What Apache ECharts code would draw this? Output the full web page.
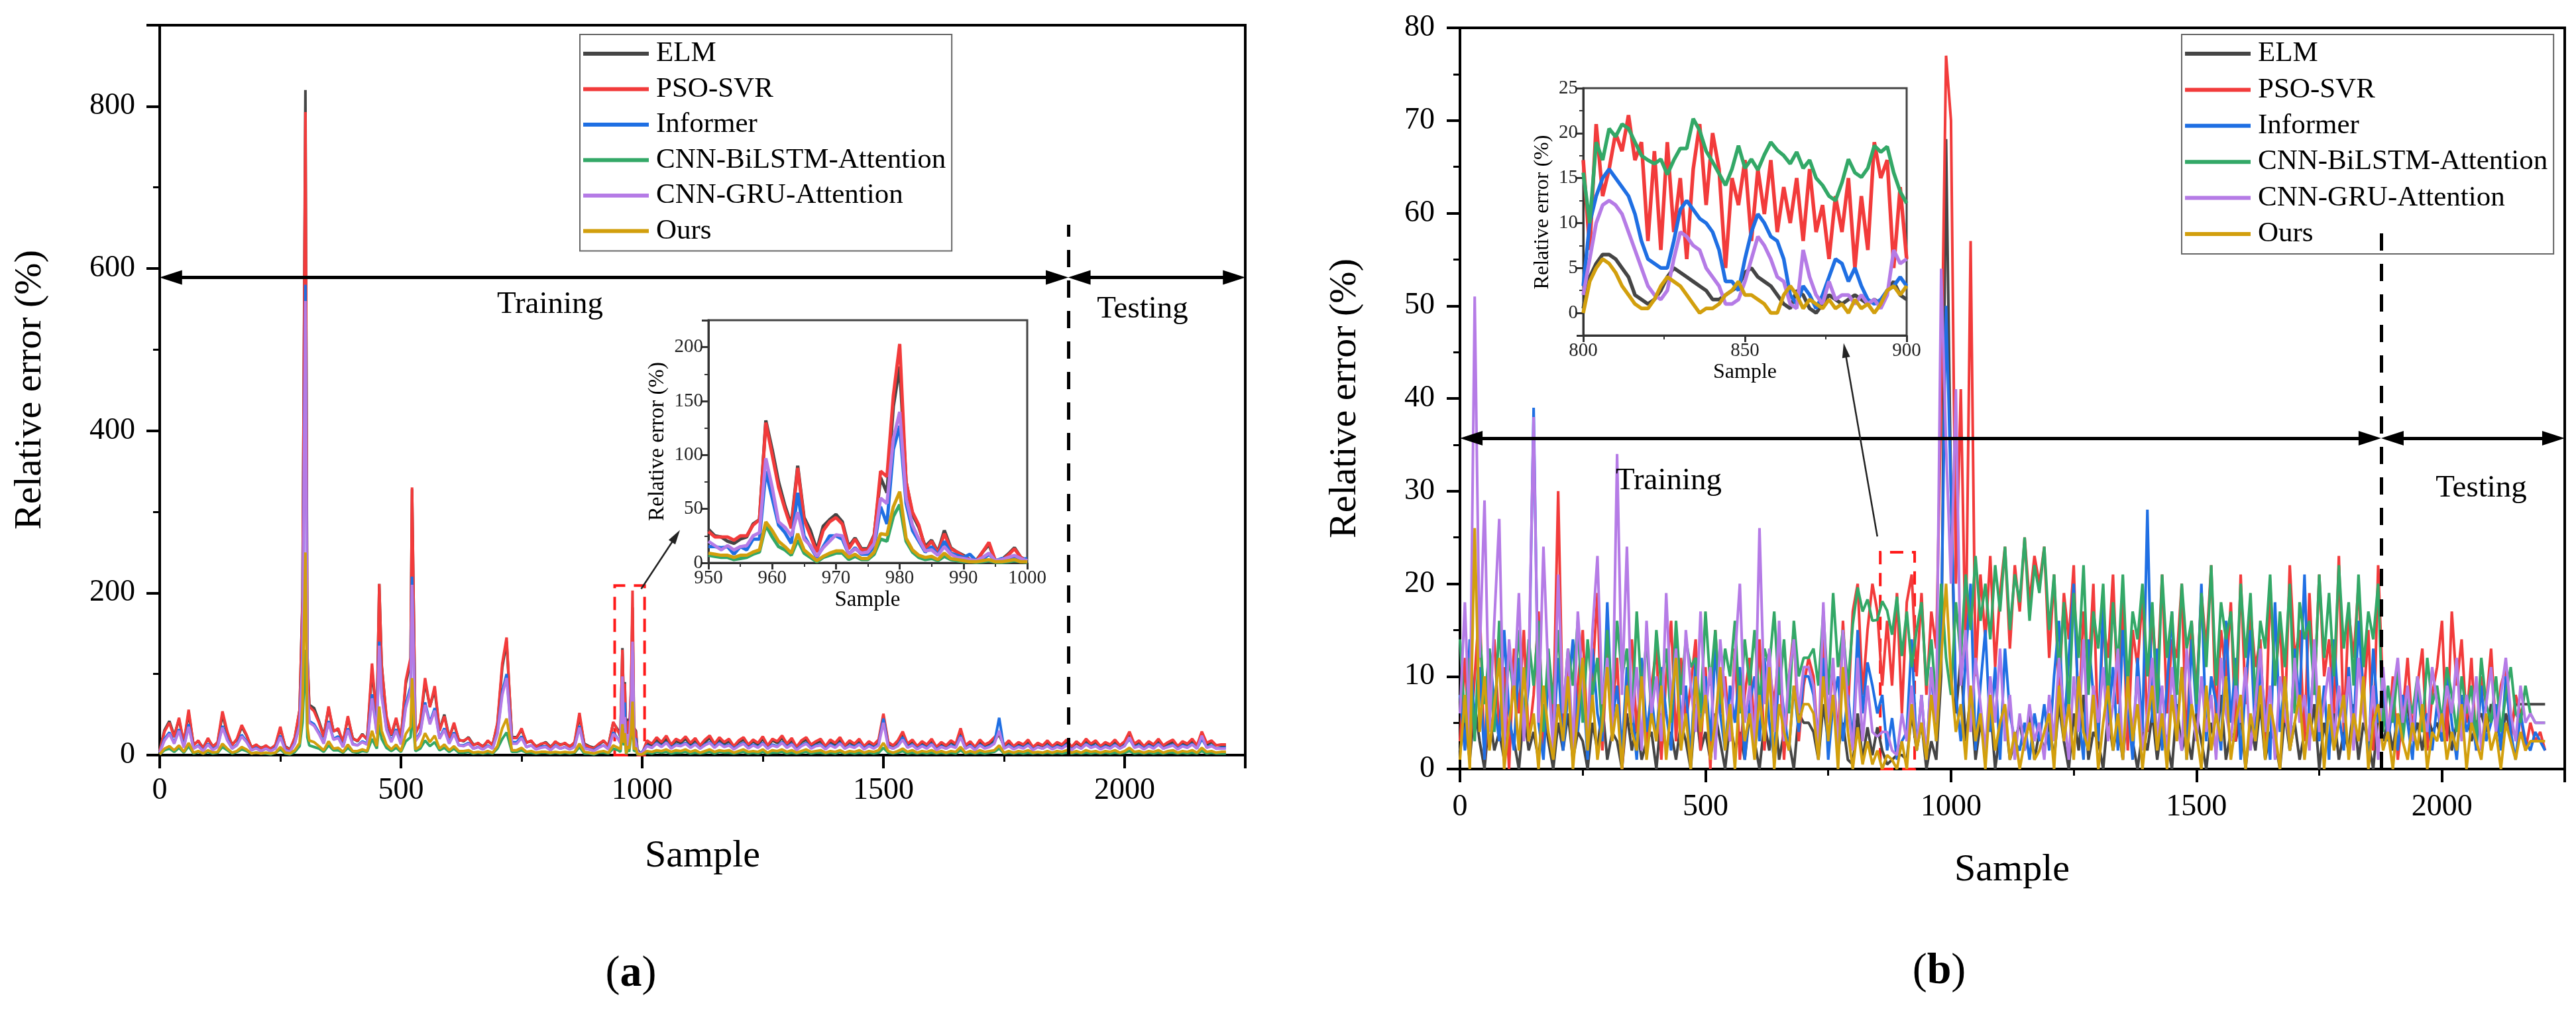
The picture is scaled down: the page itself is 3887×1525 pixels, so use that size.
<!DOCTYPE html>
<html><head><meta charset="utf-8">
<script src="https://cdn.jsdelivr.net/npm/echarts@6/dist/echarts.min.js"></script>
<style>html,body{margin:0;padding:0;background:#fff}#c{width:3887px;height:1525px}</style>
</head><body><div id="c"></div>
<script>
const FONT = '"Liberation Serif","Times New Roman",serif';
const seriesNames = ['ELM','PSO-SVR','Informer','CNN-BiLSTM-Attention','CNN-GRU-Attention','Ours'];
const seriesColors = ['#454545','#f23b3b','#1f6fe3','#33a867','#b57be6','#d29f0d'];

// ---------- Panel (a): sample indices ----------
const xA = [0,10,20,30,40,50,60,70,80,90,100,110,120,130,140,150,160,170,180,190,200,210,220,230,240,250,260,270,280,290,
296,302,306,
310,320,330,340,350,360,370,380,390,400,410,420,430,440,450,
455,
460,470,480,490,500,510,520,
523,
530,540,550,560,570,580,590,600,610,620,630,640,650,660,670,680,690,700,710,
719,
730,740,750,760,770,780,790,800,810,820,830,840,850,860,870,880,890,900,910,920,930,940,950,
955,959,962,964,967,970,973,977,980,983,987,990,995,
1000,1010,1020,1030,1040,1050,1060,1070,1080,1090,
1100,1110,1120,1130,1140,1150,1160,1170,1180,1190,
1200,1210,1220,1230,1240,1250,1260,1270,1280,1290,
1300,1310,1320,1330,1340,1350,1360,1370,1380,1390,
1400,1410,1420,1430,1440,1450,1460,1470,1480,1490,
1500,1510,1520,1530,1540,1550,1560,1570,1580,1590,
1600,1610,1620,1630,1640,1650,1660,1670,1680,1690,
1700,1710,1720,1730,1740,1750,1760,1770,1780,1790,
1800,1810,1820,1830,1840,1850,1860,1870,1880,1890,
1900,1910,1920,1930,1940,1950,1960,1970,1980,1990,
2000,2010,2020,2030,2040,2050,2060,2070,2080,2090,
2100,2110,2120,2130,2140,2150,2160,2170,2180,2190,
2200,2210];

const aELM = [6,31,42,24,44,14,52,13,17,9,20,11,15,50,27,13,19,35,24,10,12,9,11,8,12,33,11,7,21,55,
195,820,125,
62,58,42,24,58,30,31,16,46,21,17,26,19,105,42,
211,
112,45,24,44,21,88,115,
328,
28,38,90,60,80,31,50,22,38,19,17,22,13,14,11,17,13,38,108,
140,
22,22,31,16,17,11,13,16,10,16,13,14,11,15,48,14,11,9,13,17,12,40,31,
22,132,58,90,12,45,23,79,182,33,30,7,3,
2,15,12,19,14,20,11,17,15,20,
13,18,11,16,21,12,19,14,17,10,
16,19,12,17,13,20,11,18,15,21,
12,18,9,16,19,12,15,17,10,16,
13,19,11,16,12,17,10,15,12,16,
48,14,11,16,26,12,17,10,15,12,
17,9,14,11,16,12,30,11,15,9,
16,12,14,19,25,11,16,10,14,12,
16,9,13,11,16,10,14,12,16,9,
15,11,17,12,16,10,14,12,16,11,
15,26,12,16,10,15,12,17,11,14,
16,10,15,12,17,11,26,13,16,12,
12,12];

const aPSO = [5,29,40,22,46,15,56,12,18,8,21,10,16,54,29,12,20,37,25,9,13,8,12,7,13,35,10,6,22,56,
190,793,120,
60,54,40,22,60,29,33,15,48,20,18,25,20,113,40,
211,
110,48,25,46,20,92,120,
330,
26,40,95,59,85,30,48,21,40,18,18,21,12,15,10,18,12,40,113,
145,
21,21,33,15,18,10,14,15,9,17,12,15,10,16,52,13,10,8,14,18,11,41,29,
25,130,55,88,10,42,22,85,203,35,27,6,2,
2,18,14,22,16,24,13,20,17,23,
15,21,12,19,24,14,22,16,20,11,
18,22,13,19,15,23,12,20,17,24,
14,21,10,18,22,13,17,20,11,19,
15,22,12,18,14,20,11,17,13,19,
51,16,12,18,29,14,19,11,17,13,
20,10,16,12,18,14,33,12,17,10,
19,13,16,22,28,12,18,11,16,13,
19,10,15,12,18,11,16,13,19,10,
17,12,20,14,18,11,16,13,19,12,
17,29,14,18,11,17,13,20,12,16,
19,11,17,14,20,12,29,15,18,12,
13,13];

const aInf = [3,20,28,15,32,10,38,8,12,5,14,7,11,36,20,8,13,25,17,6,9,5,8,5,9,24,7,4,15,38,
130,580,85,
42,38,28,15,42,20,23,10,33,14,12,17,14,75,28,
140,
75,33,17,32,14,62,85,
220,
18,28,65,40,58,21,33,15,28,12,12,15,8,10,7,12,8,28,78,
100,
16,16,23,10,12,7,10,11,6,12,8,10,7,11,36,9,7,6,10,12,8,28,20,
15,85,28,65,5,25,14,52,127,20,20,5,2,
4,12,9,15,11,16,9,13,12,15,
10,14,8,13,16,10,15,11,13,8,
12,15,9,13,10,15,8,13,11,16,
10,14,7,12,15,9,12,13,8,13,
10,15,8,12,10,14,8,12,9,13,
45,11,8,12,22,10,13,8,12,9,
14,7,11,8,12,10,24,8,12,7,
13,9,11,15,46,8,12,8,11,9,
13,7,10,8,12,8,11,9,13,7,
11,8,14,10,12,8,11,9,13,8,
12,20,10,12,8,12,9,14,8,11,
13,8,12,10,14,8,20,10,12,8,
9,9];

const aBiL = [1,6,8,4,9,3,11,2,4,2,4,2,3,10,6,2,4,7,5,2,3,2,2,1,3,7,2,1,4,11,
40,130,22,
12,10,8,4,12,6,6,3,9,4,3,5,4,20,8,
38,
20,9,5,9,4,17,22,
55,
5,8,18,11,16,6,9,4,8,3,3,4,2,3,2,3,2,8,20,
28,
4,4,6,3,3,2,3,3,2,3,2,3,2,3,10,2,2,1,3,3,2,8,6,
4,35,12,21,1,9,4,22,54,5,6,1,1,
1,3,2,4,3,4,2,3,3,4,
2,3,2,3,4,2,4,3,3,2,
3,4,2,3,2,4,2,3,3,4,
2,3,2,3,4,2,3,3,2,3,
2,4,2,3,2,3,2,3,2,3,
9,3,2,3,5,2,3,2,3,2,
3,2,3,2,3,2,6,2,3,2,
3,2,3,4,8,2,3,2,3,2,
3,2,3,2,3,2,3,2,3,2,
3,2,3,2,3,2,3,2,3,2,
3,5,2,3,2,3,2,3,2,3,
3,2,3,2,3,2,5,2,3,2,
2,2];

const aGRU = [3,18,26,14,30,9,35,8,11,5,13,6,10,34,18,8,12,23,16,6,8,5,8,5,8,22,6,4,14,36,
120,560,80,
40,36,26,14,40,19,21,10,31,13,12,16,13,70,26,
135,
72,31,16,30,13,58,80,
210,
17,26,62,38,55,20,31,14,26,12,11,14,8,10,7,11,8,26,74,
95,
14,14,21,10,12,7,9,10,6,11,8,10,7,10,34,8,7,5,9,12,7,26,20,
15,97,33,47,6,26,13,60,140,22,15,4,2,
3,11,9,14,10,15,8,12,11,14,
9,13,8,12,15,9,14,10,12,7,
11,14,8,12,9,14,8,12,10,15,
9,13,6,11,14,8,11,12,7,12,
9,14,8,11,9,13,7,11,8,12,
40,10,8,11,19,9,12,7,11,8,
13,6,10,8,11,9,22,8,11,6,
12,8,10,14,30,8,11,7,10,8,
12,6,10,8,11,7,10,8,12,6,
11,8,13,9,11,7,10,8,12,8,
11,22,9,11,7,11,8,13,8,10,
12,7,11,9,13,8,24,9,11,8,
8,8];

const aOurs = [1,8,11,6,12,4,15,3,5,2,6,3,4,14,8,3,5,10,7,2,3,2,3,2,3,10,3,2,6,15,
60,250,35,
18,16,11,6,17,8,9,4,13,5,5,7,5,30,11,
60,
30,13,7,13,5,26,35,
95,
7,11,27,16,24,8,13,6,11,5,5,6,3,4,3,5,3,11,33,
45,
6,6,9,4,5,3,4,4,3,4,3,4,3,4,14,4,3,2,4,5,3,12,9,
7,38,15,27,2,11,8,27,66,7,9,2,1,
1,5,4,6,5,7,4,6,5,7,
4,6,3,5,7,4,6,5,6,3,
5,7,4,5,4,7,3,6,5,7,
4,6,3,5,7,4,5,6,3,5,
4,6,3,5,4,6,3,5,4,6,
15,5,3,5,8,4,6,3,5,4,
6,3,5,3,5,4,10,3,5,3,
6,4,5,6,12,3,5,3,5,4,
6,3,4,3,5,3,5,4,6,3,
5,3,6,4,5,3,5,4,6,3,
5,9,4,5,3,5,4,6,3,5,
6,3,5,4,6,3,9,4,5,3,
4,4];

// ---------- Panel (b): sample indices ----------
const xB = [0,10,20,30,40,50,60,70,80,90,100,110,120,130,140,150,160,170,180,190,
200,210,220,230,240,250,260,270,280,290,300,310,320,330,340,350,360,370,380,390,
400,410,420,430,440,450,460,470,480,490,500,510,520,530,540,550,560,570,580,590,
600,610,620,630,640,650,660,670,680,690,700,710,720,730,740,750,760,770,780,790,
800,810,820,830,840,850,860,870,880,890,900,910,920,930,940,950,960,970,980,990,
1000,1010,1020,1030,1040,1050,1060,1070,1080,1090,1100,1110,1120,1130,1140,1150,1160,1170,1180,1190,
1200,1210,1220,1230,1240,1250,1260,1270,1280,1290,1300,1310,1320,1330,1340,1350,1360,1370,1380,1390,
1400,1410,1420,1430,1440,1450,1460,1470,1480,1490,1500,1510,1520,1530,1540,1550,1560,1570,1580,1590,
1600,1610,1620,1630,1640,1650,1660,1670,1680,1690,1700,1710,1720,1730,1740,1750,1760,1770,1780,1790,
1800,1810,1820,1830,1840,1850,1860,1870,1880,1890,1900,1910,1920,1930,1940,1950,1960,1970,1980,1990,
2000,2010,2020,2030,2040,2050,2060,2070,2080,2090,2100,2110,2120,2130,2140,2150,2160,2170,2180,2190,
2200,2210];

const bELM = [2,5,1,7,3,0,6,2,4,1,5,3,0,6,2,4,1,7,3,0,
5,2,6,1,4,3,0,5,2,7,1,4,3,0,6,2,5,1,3,4,
0,6,2,4,1,5,3,0,7,2,4,1,6,3,0,5,2,4,1,6,
3,0,5,2,7,1,4,3,0,6,5,5,4,1,7,3,8,2,5,1,
0.5,6,1,4.5,1.5,4.5,2,0.5,1,1.5,1.5,1,6,2,5,0,3,1,10,68,
30,6,12,3,8,1,5,2,7,0,4,6,1,3,5,2,6,1,4,2,
5,1,7,3,0,6,2,8,1,4,3,0,6,2,5,1,7,3,0,4,
2,6,1,5,3,0,7,2,4,1,6,3,0,5,2,8,1,4,3,6,
0,5,2,7,1,4,3,0,6,2,5,1,4,3,7,0,5,2,6,1,
4,2,7,1,5,3,0,6,3,5,2,6,4,7,3,5,2,6,4,5,
3,6,2,5,4,7,3,5,6,4,7,5,3,6,4,7,7,7,7,7,
7,7];

const bPSO = [3,12,2,10,18,1,9,14,4,11,0,13,6,15,3,8,17,2,12,5,
30,4,11,1,9,15,3,10,19,2,13,6,12,0,8,14,4,11,2,9,
13,1,10,16,3,12,5,9,14,2,11,0,15,6,10,3,13,1,8,12,
4,14,2,11,7,13,1,10,15,3,9,12,10,2,14,5,11,3,16,6,
17,20,8,15,20,17,9,16,9,19,6,18,21,10,19,8,17,13,40,77,
70,20,41,12,57,10,21,14,23,11,19,24,13,22,17,25,18,23,20,24,
12,21,8,19,14,22,5,17,10,20,3,16,12,21,7,18,2,15,11,19,
4,17,9,21,6,14,12,20,2,16,8,19,13,22,5,15,10,18,3,21,
7,17,11,14,2,20,9,16,5,22,12,15,3,19,8,21,10,14,6,23,
4,17,12,20,7,15,2,22,8,3,10,1,6,12,4,9,13,2,8,11,
16,3,17,9,14,5,12,2,10,7,13,4,9,11,3,8,6,2,5,3,
4,2];

const bInf = [8,2,14,5,11,1,13,7,3,15,6,2,12,4,9,39,5,1,10,3,
12,2,8,14,4,10,1,13,6,3,18,5,9,2,11,7,1,12,4,8,
3,11,6,2,14,5,9,1,12,4,10,3,13,6,2,9,5,11,1,7,
10,3,12,5,1,11,6,2,9,4,10,10,8,3,12,1,7,10,3,8,
3,15,6,11.5,9,6,8,2,5.5,1,3,4,14,2,8,1,11,3,15,50,
30,8,3,12,20,2,9,15,4,11,1,13,6,3,2,5,1,6,3,7,
2,10,16,4,12,20,6,1,14,8,3,18,5,11,2,15,7,1,12,4,
28,5,13,2,9,17,4,11,1,14,6,20,3,10,7,2,16,5,12,1,
9,15,3,11,6,1,18,4,10,2,13,7,21,5,12,3,9,1,14,6,
2,11,4,16,8,1,13,5,9,3,7,2,8,5,1,9,4,6,2,7,
3,10,5,1,8,4,6,2,9,3,5,7,2,10,4,1,6,3,2,4,
3,2];

const bBiL = [14,5,12,3,15,7,13,4,16,6,12,8,15,5,14,9,16,4,13,7,
15,6,13,9,16,5,14,8,12,4,15,7,16,10,13,5,17,8,14,6,
15,9,13,5,16,8,14,11,12,6,17,9,15,7,13,10,16,6,14,9,
15,7,13,11,17,8,14,6,16,10,12,12,13,9,17,8,19,11,15,9,
15.6,19.6,17,18.3,16,16.1,18.1,17.1,14.5,18.6,12.2,17,11,15,18,9,14,7,20,12,
8,18,12,21,15,23,16,20,14,22,17,24,15,21,18,25,16,22,19,24,
15,21,10,18,6,19,12,22,8,17,13,20,7,18,11,21,9,17,14,20,
10,18,6,21,12,17,8,20,13,16,7,19,11,22,9,18,14,17,8,20,
12,19,7,16,13,21,9,17,11,20,6,18,14,16,8,21,12,19,10,22,
13,18,9,21,11,17,14,20,4,9,5,11,3,8,6,10,4,12,7,9,
5,11,8,4,10,6,9,3,12,7,5,10,4,8,11,6,5,9,6,5,
5,5];

const bGRU = [6,18,3,51,12,29,4,16,27,2,14,8,19,3,11,38,5,24,10,2,
21,6,13,2,17,9,4,15,23,7,12,3,34,8,24,5,11,2,16,6,
10,3,19,7,13,2,15,9,4,17,6,11,1,14,8,3,12,20,5,9,
2,26,7,13,4,16,3,10,14,6,11,11,9,2,18,5,12,1,15,7,
2,12,3,9,4,3.5,4,4,2,1.5,6,3,9,2,8,1,11,5,54,35,
20,41,9,15,4,12,7,2,10,5,13,3,8,1,6,2,7,3,5,1,
8,3,12,6,1,10,4,14,2,9,5,11,3,7,13,1,8,4,10,2,
6,12,3,9,1,11,5,2,13,7,3,10,4,8,1,12,6,3,9,5,
11,2,7,13,4,9,1,10,6,3,12,5,8,2,14,4,7,11,3,9,
5,10,2,12,6,3,9,1,11,4,8,12,5,9,3,10,6,4,11,7,
4,9,6,12,3,8,5,10,2,7,11,4,8,12,6,3,9,5,6,5,
5,5];

const bOurs = [1,8,0,26,4,10,2,7,12,0,5,9,2,11,3,6,0,9,4,1,
7,3,10,0,6,12,2,8,1,5,11,3,7,0,9,4,2,10,1,6,
3,9,1,7,12,2,6,0,10,4,8,1,5,11,2,7,0,9,3,6,
1,8,3,11,0,7,4,2,9,5,7,7,6,1,10,3,8,0,11,4,
0,4.5,0.5,3,0.5,2,0,1.5,1,0,3,0,7,2,5,1,8,3,12,20,
10,4,7,1,9,3,6,0,8,2,5,7,1,4,0,3,5,1,2,4,
6,0,9,3,7,1,10,4,2,8,0,5,9,2,6,1,10,3,7,0,
5,9,2,6,0,8,3,11,1,7,4,0,9,2,6,3,10,1,5,8,
0,6,3,9,1,7,4,0,10,2,5,8,1,6,3,9,0,7,2,5,
8,1,6,3,10,0,5,7,2,4,0,6,3,1,5,2,7,0,4,3,
6,1,4,2,7,0,5,3,1,6,2,4,0,5,3,1,4,2,3,3,
3,3];

// ---------- Inset (a): samples 950-1000 ----------
const xIA = [950,951,952,953,954,955,956,957,958,959,960,961,962,963,964,965,966,967,968,969,
970,971,972,973,974,975,976,977,978,979,980,981,982,983,984,985,986,987,988,989,
990,991,992,993,994,995,996,997,998,999,1000];
const iaELM = [31,25,24,20,18,22,24,36,40,132, 105,75,53,35,90,42,30,12,34,40,
45,38,15,23,13,13,26,79,65,145, 182,75,45,33,15,21,10,30,14,10, 7,3,2,10,17,2,3,8,14,5, 2];
const iaPSO = [29,24,24,24,21,25,25,35,40,130, 100,70,50,32,88,40,25,10,30,38,
42,36,13,22,12,12,25,85,80,155, 203,75,47,35,13,20,9,27,13,10, 6,3,1,10,19,2,2,7,13,5, 2];
const iaInf = [15,15,14,15,8,15,12,22,22,85, 60,35,28,18,65,25,15,5,15,25,
25,22,8,14,8,8,15,52,36,105, 127,55,30,20,10,15,7,20,9,7, 5,8,2,3,8,2,4,4,6,3, 4];
const iaBiL = [7,6,5,5,3,4,5,8,10,35, 24,15,12,7,21,9,5,1,5,7,
9,9,3,6,3,3,8,22,20,43, 54,20,10,5,3,4,2,6,3,2, 1,1,0.5,1,2,0.5,0.5,1,2,1, 0.5];
const iaGRU = [20,16,12,16,12,15,16,25,28,97, 70,38,33,25,47,22,16,6,14,20,
26,25,8,13,9,10,18,60,55,115, 140,60,35,22,11,12,7,15,8,5, 4,3,2,5,9,2,3,5,7,4, 2];
const iaOurs = [9,8,7,7,5,7,7,10,12,38, 30,20,15,9,27,12,7,2,6,9,
11,11,5,8,4,4,10,27,26,52, 66,23,12,7,5,6,3,9,4,3, 2,1,1,2,3,1,1,2,3,1, 1];

// ---------- Inset (b): samples 800-900 ----------
const xIB = [800,802,804,806,808,810,812,814,816,818,820,822,824,826,828,830,832,834,836,838,
840,842,844,846,848,850,852,854,856,858,860,862,864,866,868,870,872,874,876,878,
880,882,884,886,888,890,892,894,896,898,900];
const ibELM = [0.5,4,5.5,6.5,6.5,6,5,4,2,1.5,1,1.5,2.5,4,5,4.5,4,3.5,3,2.5,
1.5,1.5,2,2.5,3,4.5,5,4,3.5,3,2,1,0.5,2.5,2,0.5,0,1,2,1.5,
1,1.5,2,1.5,1,1.5,1,2.5,3.5,2,1.5];
const ibPSO = [17,7,21,13,16,20,18,22,17,19,8,18,7,19,9,15,6,16,21,12,
20,16,5,15,12,17,8,16,11,17,9,14,10,15,8,16,9,12,6,13,
9,15,5,13,7,19,15,17,5,14,6];
const ibInf = [3,10,13,15,16,15,14,13,11,8,6,5.5,5,5,8,11.5,12.5,11.5,10.5,10,
9,7,3.5,3.5,2.5,6,9,11,10,8.5,8,6,2,1,3,2,0.5,2,4,6,
5.5,3.5,5,3,1.5,1,1.5,2.5,3,4,3];
const ibBiL = [15.6,10,19,17,20.5,19.6,21,20.5,19,17.5,17,16.6,17.1,15.4,17,18.3,18.3,21.6,20.3,18,
16.8,15.5,14.2,16,18.6,16.1,17.1,15.9,17.6,19,18.1,17.5,16.6,17.9,16.1,17,15,14.2,13,12.5,
14.5,17.1,15.6,15.1,16.1,18.6,17.9,18.5,15.6,13.5,12.2];
const ibGRU = [2,6,10,12,12.5,12,11,9,7,5,3,2,1.5,2.5,6,9,8.5,7.5,7,5,
4,3,1,1,1.5,3.5,6,8.5,7.5,6,4,3.5,1,0.5,7,4,2,1,3.5,1.5,
2,2,1,2,1,1.5,0.5,2,7,5.5,6];
const ibOurs = [0,3.5,5,6,5.5,4.5,3,2,1,0.5,0.5,1.5,3,4,3.5,3,2,1,0,0.5,
0.5,1,2,2.5,3.5,2,2,1.5,1,0,0,2,3,2,0.5,1.5,1,0.5,1.5,0.5,
1,0,1.5,0.5,1,0,1,2.5,3,2,3];

// ---------- build ----------
function pairs(xs, ys) { return xs.map((x, i) => [x, ys[i]]); }

const panels = [
  { xs: xA, ys: [aELM, aPSO, aInf, aBiL, aGRU, aOurs], axis: 0, width: 4 },
  { xs: xB, ys: [bELM, bPSO, bInf, bBiL, bGRU, bOurs], axis: 1, width: 4 },
  { xs: xIA, ys: [iaELM, iaPSO, iaInf, iaBiL, iaGRU, iaOurs], axis: 2, width: 5 },
  { xs: xIB, ys: [ibELM, ibPSO, ibInf, ibBiL, ibGRU, ibOurs], axis: 3, width: 5.5 }
];

const TRI = [22, 34];
function arrowPair(x1, y1, x2, y2, s1, s2, size, ls) {
  return [
    { coord: [x1, y1], symbol: s1, symbolSize: size, lineStyle: ls },
    { coord: [x2, y2], symbol: s2, symbolSize: size }
  ];
}

const markLines = {
  0: [
    arrowPair(23, 589, 1860, 589, 'triangle', 'triangle', TRI, { width: 5, color: '#000', type: 'solid' }),
    arrowPair(1906, 589, 2227, 589, 'triangle', 'triangle', TRI, { width: 5, color: '#000', type: 'solid' }),
    arrowPair(1883, 0, 1883, 654, 'none', 'none', TRI, { width: 5, color: '#000', type: [26, 20] }),
    arrowPair(998, 205, 1070, 270, 'none', 'triangle', [12, 22], { width: 2.5, color: '#222', type: 'solid' })
  ],
  1: [
    arrowPair(23, 35.7, 1853, 35.7, 'triangle', 'triangle', TRI, { width: 5, color: '#000', type: 'solid' }),
    arrowPair(1899, 35.7, 2227, 35.7, 'triangle', 'triangle', TRI, { width: 5, color: '#000', type: 'solid' }),
    arrowPair(1876, 0, 1876, 59, 'none', 'none', TRI, { width: 5, color: '#000', type: [26, 20] }),
    arrowPair(850, 25.1, 784, 45.2, 'none', 'triangle', [12, 22], { width: 2.5, color: '#222', type: 'solid' })
  ]
};
const markAreas = {
  0: [[{ coord: [943, -7] }, { coord: [1005, 209] }]],
  1: [[{ coord: [856, -0.6] }, { coord: [926, 23.4] }]]
};

const series = [];
panels.forEach(p => {
  p.ys.forEach((vals, k) => {
    const s = {
      type: 'line', name: seriesNames[k],
      xAxisIndex: p.axis, yAxisIndex: p.axis,
      data: pairs(p.xs, vals),
      showSymbol: false, symbol: 'none', clip: false,
      lineStyle: { width: p.width, color: seriesColors[k] },
      itemStyle: { color: seriesColors[k] },
      emphasis: { disabled: true }, animation: false
    };
    if (k === 5 && markLines[p.axis]) {
      s.markLine = { silent: true, animation: false, label: { show: false }, symbol: ['none', 'none'],
        emphasis: { disabled: true }, data: markLines[p.axis] };
    }
    if (k === 0 && markAreas[p.axis]) {
      s.markArea = { silent: true, animation: false,
        itemStyle: { color: 'rgba(0,0,0,0)', borderColor: '#ff1a1a', borderWidth: 4, borderType: [20, 13] },
        data: markAreas[p.axis] };
    }
    series.push(s);
  });
});

function mainX(grid, margin) {
  return {
    gridIndex: grid, type: 'value', min: 0, max: 2250, interval: 500,
    axisLine: { onZero: false, lineStyle: { color: '#000', width: 4 } },
    axisTick: { length: 20, lineStyle: { color: '#000', width: 4 } },
    minorTick: { show: true, splitNumber: 2, length: 10, lineStyle: { color: '#000', width: 3 } },
    splitLine: { show: false },
    axisLabel: { fontFamily: FONT, fontSize: 46, color: '#000', margin: margin,
      formatter: v => (v % 500 === 0 ? String(v) : '') }
  };
}
function insetAxis(grid, min, max, interval, isY) {
  const a = {
    gridIndex: grid, type: 'value', min: min, max: max,
    axisLine: { onZero: false, lineStyle: { color: '#333', width: 3 } },
    axisTick: { length: 10, lineStyle: { color: '#333', width: 3 } },
    minorTick: { show: true, splitNumber: 2, length: 6, lineStyle: { color: '#333', width: 2 } },
    splitLine: { show: false },
    axisLabel: { fontFamily: FONT, fontSize: 29, color: '#222', margin: isY ? 8 : 9,
      formatter: v => String(v) }
  };
  if (interval) a.interval = interval;
  return a;
}

const xAxes = [
  mainX(0, 31),
  mainX(1, 35),
  insetAxis(2, 950, 1000, 10, false),
  insetAxis(3, 800, 900, 50, false)
];
const yA = {
  gridIndex: 0, type: 'value', min: 0, max: 900, interval: 200,
  axisLine: { onZero: false, lineStyle: { color: '#000', width: 4 } },
  axisTick: { length: 20, lineStyle: { color: '#000', width: 4 } },
  minorTick: { show: true, splitNumber: 2, length: 10, lineStyle: { color: '#000', width: 3 } },
  splitLine: { show: false },
  axisLabel: { fontFamily: FONT, fontSize: 46, color: '#000', margin: 37,
    formatter: v => (v % 200 === 0 ? String(v) : '') }
};
const yB = {
  gridIndex: 1, type: 'value', min: 0, max: 80, interval: 10,
  axisLine: { onZero: false, lineStyle: { color: '#000', width: 4 } },
  axisTick: { length: 20, lineStyle: { color: '#000', width: 4 } },
  minorTick: { show: true, splitNumber: 2, length: 10, lineStyle: { color: '#000', width: 3 } },
  splitLine: { show: false },
  axisLabel: { fontFamily: FONT, fontSize: 46, color: '#000', margin: 38 }
};
const yIA = insetAxis(2, 0, 225, 50, true);
yIA.axisLabel.formatter = v => (v % 50 === 0 ? String(v) : '');
const yIB = insetAxis(3, -2.5, 25, null, true);
yIB.splitNumber = 5;
yIB.axisLabel.formatter = v => (v < -0.1 || Math.abs(v % 5) > 0.01 ? '' : String(Math.round(v)));

function legendAt(left, gap) {
  return {
    left: left, top: 52, orient: 'vertical', data: seriesNames, icon: 'rect',
    itemWidth: 99, itemHeight: 6, itemGap: gap, padding: [7, 9, 8, 5],
    borderColor: '#666', borderWidth: 2, backgroundColor: 'rgba(255,255,255,0)',
    selectedMode: false,
    textStyle: { fontFamily: FONT, fontSize: 43, lineHeight: 44, color: '#000', padding: [0, 0, 0, 6] }
  };
}

function txt(x, y, text, size, rot, extra) {
  return Object.assign({
    type: 'text', x: x, y: y, rotation: rot || 0, z: 100, silent: true,
    style: { text: text, fontFamily: FONT, fontSize: size, fill: '#000',
      align: 'center', verticalAlign: 'middle', textAlign: 'center', textVerticalAlign: 'middle' }
  }, extra || {});
}
function panelTag(x, y, letter) {
  return {
    type: 'text', x: x, y: y, z: 100, silent: true,
    style: {
      text: '{n|(}{b|' + letter + '}{n|)}',
      align: 'center', verticalAlign: 'middle', textAlign: 'center', textVerticalAlign: 'middle',
      rich: {
        n: { fontFamily: FONT, fontSize: 66, fill: '#000', color: '#000' },
        b: { fontFamily: FONT, fontSize: 66, fontWeight: 'bold', fill: '#000', color: '#000' }
      }
    }
  };
}

const option = {
  backgroundColor: '#fff',
  animation: false,
  grid: [
    { left: 241, top: 38, width: 1638, height: 1101, show: true, borderColor: '#000', borderWidth: 4, backgroundColor: 'rgba(0,0,0,0)' },
    { left: 2203, top: 42, width: 1667, height: 1118, show: true, borderColor: '#000', borderWidth: 4, backgroundColor: 'rgba(0,0,0,0)' },
    { left: 1069, top: 483, width: 481, height: 366, show: true, borderColor: '#444', borderWidth: 3, backgroundColor: '#fff' },
    { left: 2389, top: 133, width: 488, height: 373, show: true, borderColor: '#444', borderWidth: 3, backgroundColor: '#fff' }
  ],
  xAxis: xAxes,
  yAxis: [yA, yB, yIA, yIB],
  legend: [legendAt(875, 9.5), legendAt(3292, 10.4)],
  series: series,
  graphic: [
    txt(46, 588, 'Relative error (%)', 58, Math.PI / 2),
    txt(2030, 601, 'Relative error (%)', 58, Math.PI / 2),
    txt(1060, 1292, 'Sample', 58),
    txt(3036, 1313, 'Sample', 58),
    txt(830, 460, 'Training', 47),
    txt(1724, 467, 'Testing', 47),
    txt(2518, 726, 'Training', 47),
    txt(3744, 737, 'Testing', 47),
    txt(992, 666, 'Relative error (%)', 33, Math.PI / 2),
    txt(1309, 905, 'Sample', 33),
    txt(2328, 320, 'Relative error (%)', 32, Math.PI / 2),
    txt(2633, 562, 'Sample', 32),
    panelTag(952, 1470, 'a'),
    panelTag(2926, 1466, 'b')
  ]
};

const chart = echarts.init(document.getElementById('c'), null, { renderer: 'canvas' });
chart.setOption(option);
</script>
</body></html>
